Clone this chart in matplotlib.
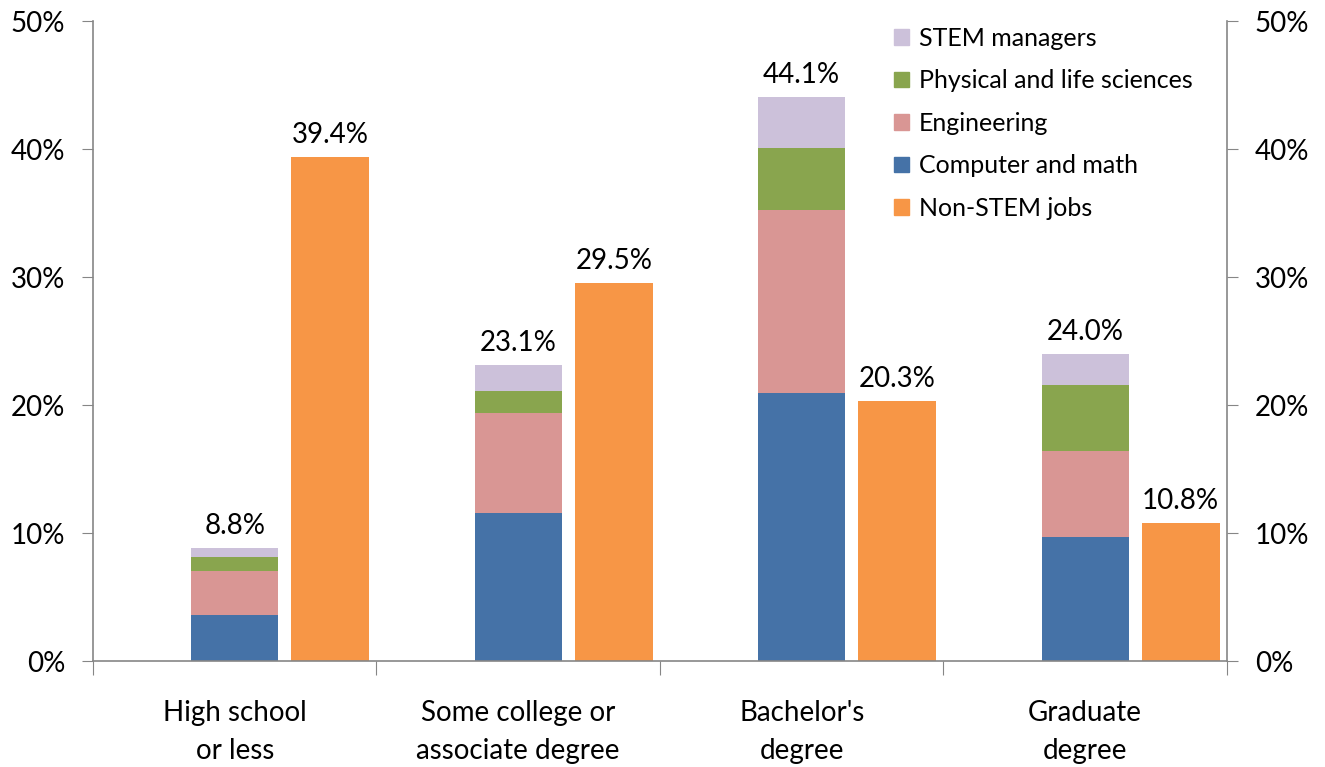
import numpy as np
import matplotlib.pyplot as plt
from matplotlib.patches import Patch

plt.rcParams['font.family'] = ['Lato', 'DejaVu Sans']

# Dane
categories = ["High school\nor less", "Some college or\nassociate degree",
              "Bachelor's\ndegree", "Graduate\ndegree"]
computer = [3.6, 11.6, 20.9, 9.7]
engineering = [3.4, 7.8, 14.3, 6.7]
physical = [1.1, 1.7, 4.9, 5.2]
managers = [0.7, 2.0, 4.0, 2.4]
stem_total = [8.8, 23.1, 44.1, 24.0]
non_stem = [39.4, 29.5, 20.3, 10.8]

c_comp = '#4572A7'
c_eng = '#D99694'
c_phys = '#89A54E'
c_mgr = '#CCC1DA'
c_non = '#F79646'
axis_col = '#868686'

x = np.arange(len(categories))
w_stem = 0.307
w_non = 0.275
off_non = 0.337

fig = plt.figure(figsize=(13.25, 7.67), dpi=100)
ax = fig.add_axes([0.0702, 0.1382, 0.8558, 0.8344])

bottom = np.zeros(len(categories))
for vals, col in [(computer, c_comp), (engineering, c_eng),
                  (physical, c_phys), (managers, c_mgr)]:
    ax.bar(x, vals, w_stem, bottom=bottom, color=col, linewidth=0)
    bottom += np.array(vals)
ax.bar(x + off_non, non_stem, w_non, color=c_non, linewidth=0)

fs = 20
for xi, v in zip(x, stem_total):
    ax.text(xi, v + 0.7, f"{v:.1f}%", ha='center', va='bottom', fontsize=fs)
for xi, v in zip(x + off_non, non_stem):
    ax.text(xi, v + 0.7, f"{v:.1f}%", ha='center', va='bottom', fontsize=fs)

ax.set_xlim(-0.5, 3.5)
ax.set_ylim(0, 50)
yt = np.arange(0, 51, 10)
ax.set_yticks(yt)
ax.set_yticklabels([f"{t}%" for t in yt], fontsize=fs)
ax.tick_params(axis='y', which='both', direction='out', length=8,
               color=axis_col, pad=12, labelleft=True, labelright=True,
               right=True)

ax.set_xticks(np.arange(-0.5, 4, 1))
ax.set_xticklabels([])
ax.set_xticks(x, minor=True)
ax.set_xticklabels(categories, minor=True, fontsize=fs, linespacing=1.6)
ax.tick_params(axis='x', which='major', direction='out', length=10,
               color=axis_col)
ax.tick_params(axis='x', which='minor', length=0, pad=28)

for s in ['left', 'right', 'bottom']:
    ax.spines[s].set_color(axis_col)
    ax.spines[s].set_linewidth(1.2)
ax.spines['top'].set_visible(False)

handles = [Patch(color=c_mgr, label='STEM managers'),
           Patch(color=c_phys, label='Physical and life sciences'),
           Patch(color=c_eng, label='Engineering'),
           Patch(color=c_comp, label='Computer and math'),
           Patch(color=c_non, label='Non-STEM jobs')]
ax.legend(handles=handles, loc='upper left', bbox_to_anchor=(0.667, 0.978),
          bbox_transform=fig.transFigure, frameon=False, fontsize=18,
          handlelength=0.6, handleheight=0.6, handletextpad=0.4,
          labelspacing=0.78, borderaxespad=0)

fig.savefig('out.png', dpi=100)
